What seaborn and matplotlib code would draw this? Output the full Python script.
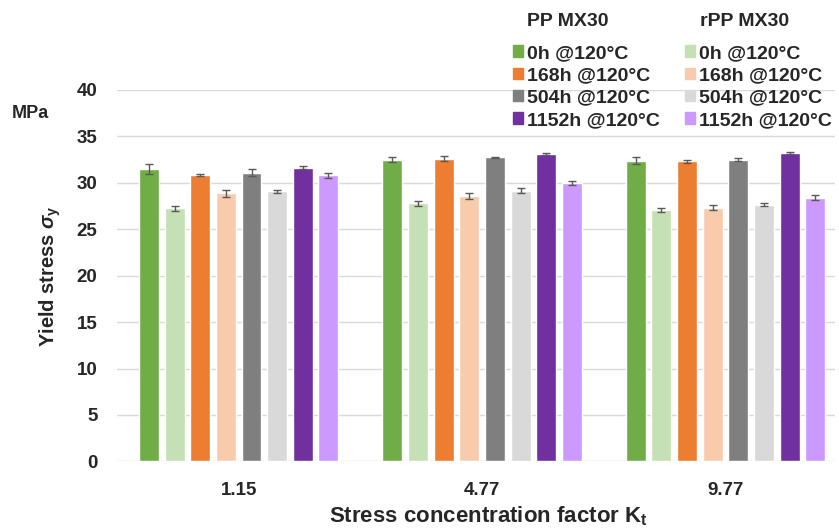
import numpy as np
import pandas as pd
import matplotlib
matplotlib.use("Agg")
import matplotlib.pyplot as plt
import seaborn as sns
from matplotlib.patches import Patch

# data
kt_labels = ["1.15", "4.77", "9.77"]
series = ["PP 0h", "rPP 0h", "PP 168h", "rPP 168h",
          "PP 504h", "rPP 504h", "PP 1152h", "rPP 1152h"]
legend_labels = ["0h @120°C", "168h @120°C", "504h @120°C", "1152h @120°C"]
colors = ["#70AD47", "#C5E0B4", "#ED7D31", "#F8CBAD",
          "#7F7F7F", "#D9D9D9", "#7030A0", "#CC99FF"]

pp_0h = [31.5, 32.5, 32.4]
rpp_0h = [27.25, 27.8, 27.05]
pp_168h = [30.85, 32.6, 32.35]
rpp_168h = [28.9, 28.6, 27.3]
pp_504h = [31.1, 32.75, 32.5]
rpp_504h = [29.1, 29.15, 27.65]
pp_1152h = [31.65, 33.1, 33.2]
rpp_1152h = [30.8, 30.0, 28.4]

err_pp_0h = [0.5, 0.27, 0.34]
err_rpp_0h = [0.3, 0.25, 0.2]
err_pp_168h = [0.15, 0.27, 0.16]
err_rpp_168h = [0.38, 0.3, 0.27]
err_pp_504h = [0.35, 0.08, 0.2]
err_rpp_504h = [0.16, 0.25, 0.18]
err_pp_1152h = [0.2, 0.1, 0.07]
err_rpp_1152h = [0.28, 0.25, 0.29]

values = [pp_0h, rpp_0h, pp_168h, rpp_168h, pp_504h, rpp_504h, pp_1152h, rpp_1152h]
errors = [err_pp_0h, err_rpp_0h, err_pp_168h, err_rpp_168h,
          err_pp_504h, err_rpp_504h, err_pp_1152h, err_rpp_1152h]

rows = []
for s, vals, errs in zip(series, values, errors):
    for k, v, e in zip(kt_labels, vals, errs):
        rows.append({"Kt": k, "series": s, "value": v, "err": e})
df = pd.DataFrame(rows)

sns.set_style("white")
plt.rcParams["font.family"] = ["Liberation Sans", "DejaVu Sans"]
plt.rcParams["font.weight"] = "bold"
plt.rcParams["mathtext.fontset"] = "custom"
plt.rcParams["mathtext.rm"] = "Liberation Sans:bold"
plt.rcParams["mathtext.it"] = "Liberation Sans:italic:bold"
plt.rcParams["mathtext.bf"] = "Liberation Sans:bold"

fig = plt.figure(figsize=(8.39, 5.29), dpi=100)
ax_h = (461.4 - 90) / 529
ax = fig.add_axes([117 / 839, 1 - 461.4 / 529, (835 - 117) / 839, ax_h])

palette = dict(zip(series, colors))
sns.barplot(data=df, x="Kt", y="value", hue="series", order=kt_labels,
            hue_order=series, palette=palette, width=0.842, gap=0.22,
            errorbar=None, legend=False, ax=ax, saturation=1)

# error bars on each bar
for cont, s in zip(ax.containers, series):
    sub = df[df["series"] == s].set_index("Kt").loc[kt_labels]
    xs = [b.get_x() + b.get_width() / 2 for b in cont]
    ys = [b.get_height() for b in cont]
    ax.errorbar(xs, ys, yerr=sub["err"].values, fmt="none",
                ecolor="#595959", elinewidth=1, capsize=3, capthick=1, zorder=5)

ax.set_ylim(0, 40)
ax.set_xlim(-0.5, -0.5 + (835 - 117) / 243.4)
ax.set_yticks(np.arange(0, 41, 5))
ax.yaxis.grid(True, color="#D9D9D9", linewidth=1)
ax.set_axisbelow(True)
for sp in ax.spines.values():
    sp.set_visible(False)
ax.tick_params(axis="both", length=0, labelsize=13.5)
ax.tick_params(axis="x", pad=15)
ax.tick_params(axis="y", pad=14)
for lab in ax.get_xticklabels() + ax.get_yticklabels():
    lab.set_fontweight("bold")

ax.set_xlabel(r"Stress concentration factor K$_\mathregular{t}$", fontsize=16,
              fontweight="bold", va="center")
ax.xaxis.set_label_coords(0.517, -(516 - 461.4) / 529 / ax_h)
ax.set_ylabel(r"Yield stress $\sigma_\mathregular{y}$", fontsize=14.5,
              fontweight="bold", labelpad=10)
fig.text(12 / 839, 1 - 113 / 529, "MPa", fontsize=13, fontweight="bold", va="center")

handles = [Patch(color=colors[i]) for i in range(0, 8, 2)] + \
          [Patch(color=colors[i]) for i in range(1, 8, 2)]
labels = legend_labels + legend_labels
fig.legend(handles, labels, ncol=2, loc="upper left",
           bbox_to_anchor=(513 / 839, 1 - 45 / 529), frameon=False,
           prop={"size": 14, "weight": "bold"}, handlelength=0.52,
           handleheight=0.52, handletextpad=0.22, columnspacing=1.25,
           labelspacing=0.27, borderpad=0, borderaxespad=0)
fig.text(527 / 839, 1 - 21 / 529, "PP MX30", fontsize=14, fontweight="bold", va="center")
fig.text(700 / 839, 1 - 21 / 529, "rPP MX30", fontsize=14, fontweight="bold", va="center")

fig.savefig("out.png", dpi=100)
